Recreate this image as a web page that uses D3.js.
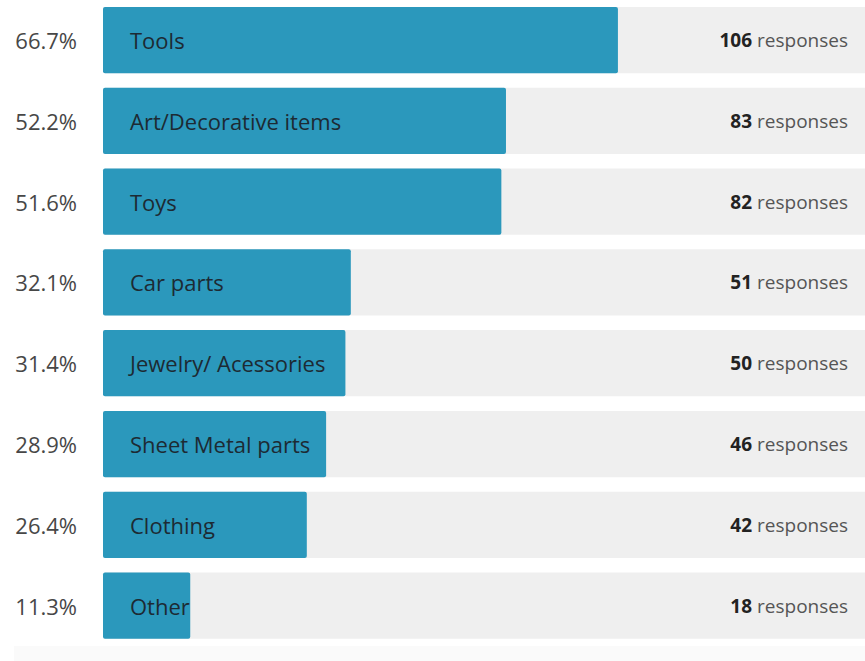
<!DOCTYPE html>
<html>
<head>
<meta charset="utf-8">
<script src="https://cdn.jsdelivr.net/npm/d3@7"></script>
<style>
  html, body { margin: 0; padding: 0; background: #ffffff; }
  svg { display: block; font-family: "Open Sans", "Noto Sans", sans-serif; }
</style>
</head>
<body>
<svg id="chart" width="865" height="661"></svg>
<script>
// Survey answers: share of respondents and response counts
const categories = ["Tools", "Art/Decorative items", "Toys", "Car parts",
  "Jewelry/ Acessories", "Sheet Metal parts", "Clothing", "Other"];
const percents = [66.7, 52.2, 51.6, 32.1, 31.4, 28.9, 26.4, 11.3];
const counts = [106, 83, 82, 51, 50, 46, 42, 18];

const rows = categories.map((c, i) => ({ label: c, pct: percents[i], n: counts[i] }));

const svg = d3.select("#chart");
const barLeft = 103;

const x = d3.scaleLinear().domain([0, 100]).range([0, 772]);
const y = d3.scaleBand().domain(categories).range([-0.35, 646])
  .paddingInner(0.18).paddingOuter(0.09);

// faint footer strip
svg.append("rect").attr("x", 14).attr("y", 646).attr("width", 851).attr("height", 15)
  .attr("fill", "#fafafa");

const g = svg.selectAll("g.row").data(rows).join("g").attr("class", "row")
  .attr("transform", d => `translate(0,${y(d.label)})`);

const h = y.bandwidth();

// track
g.append("rect").attr("x", barLeft).attr("y", 0)
  .attr("width", 865 - barLeft + 5).attr("height", h)
  .attr("rx", 2).attr("fill", "#efefef");

// value bar
g.append("rect").attr("x", barLeft).attr("y", 0)
  .attr("width", d => x(d.pct)).attr("height", h)
  .attr("rx", 2).attr("fill", "#2b98bc");

// percentage
g.append("text").attr("x", 77).attr("y", h / 2 + 9)
  .attr("text-anchor", "end").attr("font-size", 22).attr("fill", "#474747")
  .text(d => d.pct.toFixed(1) + "%");

// category label
g.append("text").attr("x", 130).attr("y", h / 2 + 9)
  .attr("font-size", 22).attr("fill", "#1d2a33")
  .text(d => d.label);

// response count
const t = g.append("text").attr("x", 848).attr("y", h / 2 + 7)
  .attr("text-anchor", "end").attr("font-size", 19);
t.append("tspan").attr("font-weight", "bold").attr("fill", "#222222").text(d => d.n);
t.append("tspan").attr("fill", "#555555").text(" responses");
</script>
</body>
</html>
